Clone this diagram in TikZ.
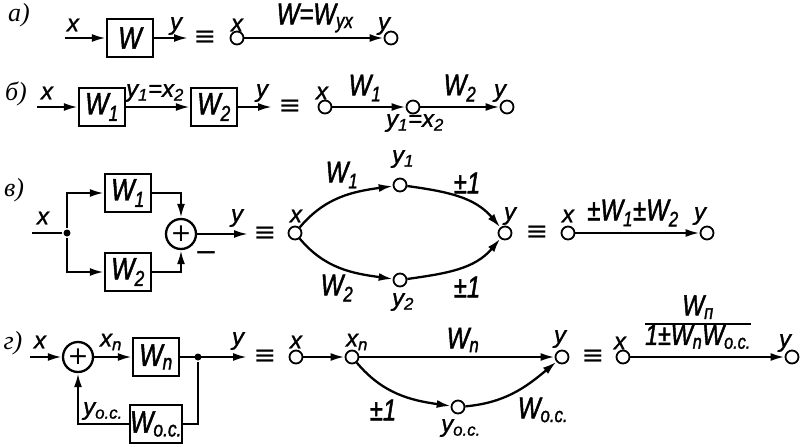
\documentclass[tikz,border=0pt]{standalone}
\usepackage{fontspec}
\setmainfont{Liberation Sans}[FakeBold=1.2]
\newfontfamily\wfont[FakeStretch=0.8,FakeBold=1.5]{Liberation Sans}
\newfontfamily\itemfont{Liberation Serif}
\newfontfamily\symfont{DejaVu Sans}
\usetikzlibrary{arrows.meta}
\setlength{\arrayrulewidth}{2pt}
\renewcommand{\arraystretch}{0.85}
\begin{document}
\begin{tikzpicture}[x=1pt,y=-1pt,line width=2.3pt,
  arr/.style={-{Latex[length=14pt,width=8pt]}},
  block/.style={draw,minimum width=46pt,minimum height=38pt,inner sep=0pt,font=\wfont\itshape\fontsize{31}{33}\selectfont},
  vtx/.style={circle,draw,fill=white,line width=1.8pt,minimum size=13pt,inner sep=0pt},
  summer/.style={circle,draw,minimum size=30pt,inner sep=0pt,font=\symfont\fontsize{25}{25}\selectfont},
  jdot/.style={circle,fill,minimum size=7pt,inner sep=0pt},
  sig/.style={inner sep=0pt,font=\itshape\fontsize{24}{26}\selectfont},
  tf/.style={inner sep=0pt,font=\wfont\itshape\fontsize{30}{32}\selectfont},
  eqv/.style={inner sep=0pt,font=\symfont\fontsize{27}{29}\selectfont},
  part/.style={inner sep=0pt,font=\itemfont\itshape\fontsize{26}{28}\selectfont}]
\useasboundingbox (0,0) rectangle (803,447);
\node[part] (pa) at (19,15) {а)};
\coordinate (a0) at (65,38);
\node[block] (aW) at (130,38) {W};
\coordinate (a1) at (188,38);
\draw[arr] (a0) -- (aW);
\draw[arr] (aW) -- (a1);
\node[sig] (ax0) at (73,25) {x};
\node[sig] (ay0) at (176,26) {y};
\node[eqv] (aeq) at (205,38) {≡};
\node[vtx] (ax) at (237,38) {};
\node[vtx] (ay) at (391,38) {};
\draw[arr] (ax) -- (ay);
\node[sig] (axl) at (237,25) {x};
\node[sig] (ayl) at (384,26) {y};
\node[tf] (aWl) at (315,18) {W=W\textsubscript{yx}};
\node[part] (pb) at (16,94) {б)};
\coordinate (b0) at (37,107);
\node[block] (bW1) at (102,107) {W\textsubscript{1}};
\node[block] (bW2) at (214,107) {W\textsubscript{2}};
\coordinate (b1) at (272,107);
\draw[arr] (b0) -- (bW1);
\draw[arr] (bW1) -- (bW2);
\draw[arr] (bW2) -- (b1);
\node[sig] (bx0) at (47,93) {x};
\node[sig] (bm0) at (155,93) {y\textsubscript{1}=x\textsubscript{2}};
\node[sig] (by0) at (262,93) {y};
\node[eqv] (beq) at (290,107) {≡};
\node[vtx] (bx) at (325,107) {};
\node[vtx] (bm) at (413,107) {};
\node[vtx] (by) at (507,107) {};
\draw[arr] (bx) -- (bm);
\draw[arr] (bm) -- (by);
\node[sig] (bxl) at (322,93) {x};
\node[tf] (bW1l) at (365,88) {W\textsubscript{1}};
\node[tf] (bW2l) at (460,88) {W\textsubscript{2}};
\node[sig] (byl) at (500,93) {y};
\node[sig] (bml) at (415,123) {y\textsubscript{1}=x\textsubscript{2}};
\node[part] (pc) at (14,190) {в)};
\coordinate (c0) at (32,233);
\node[jdot] (cd) at (67,233) {};
\node[block] (cW1) at (128,193) {W\textsubscript{1}};
\node[block] (cW2) at (128,272) {W\textsubscript{2}};
\node[summer] (cS) at (181,234) {+};
\coordinate (c1) at (248,234);
\draw (c0) -- (cd);
\draw[arr] (cd) |- (cW1);
\draw[arr] (cd) |- (cW2);
\draw[arr] (cW1) -| (cS);
\draw[arr] (cW2) -| (cS);
\draw[arr] (cS) -- (c1);
\node[sig] (cx0) at (43,218) {x};
\node[sig] (cy0) at (237,218) {y};
\node[eqv,font=\symfont\fontsize{28}{28}\selectfont] (cmin) at (206,257) {−};
\node[eqv] (ceq) at (265,234) {≡};
\node[vtx] (cx) at (295,233) {};
\node[vtx] (cy1) at (400,185) {};
\node[vtx] (cy2) at (400,280) {};
\node[vtx] (cy) at (505,233) {};
\draw[arr] (cx) to[out=50,in=188] (cy1);
\draw[arr] (cy1) to[out=-8,in=130] (cy);
\draw[arr] (cx) to[out=-50,in=172] (cy2);
\draw[arr] (cy2) to[out=8,in=-130] (cy);
\node[sig] (cxl) at (296,216) {x};
\node[tf] (cW1l) at (342,175) {W\textsubscript{1}};
\node[sig] (cy1l) at (403,159) {y\textsubscript{1}};
\node[tf] (cp1) at (467,183) {±1};
\node[sig] (cyl) at (510,216) {y};
\node[tf] (cW2l) at (337,288) {W\textsubscript{2}};
\node[sig] (cy2l) at (403,302) {y\textsubscript{2}};
\node[tf] (cp2) at (467,287) {±1};
\node[eqv] (ceq2) at (537,233) {≡};
\node[vtx] (cX) at (568,233) {};
\node[vtx] (cY) at (707,233) {};
\draw[arr] (cX) -- (cY);
\node[sig] (cXl) at (568,216) {x};
\node[sig] (cYl) at (700,216) {y};
\node[tf] (cWl) at (633,213) {±W\textsubscript{1}±W\textsubscript{2}};
\node[part] (pd) at (13,343) {г)};
\coordinate (d0) at (30,357);
\node[summer] (dS) at (78,357) {+};
\node[block] (dWn) at (156,357) {W\textsubscript{n}};
\node[jdot] (dd) at (198,357) {};
\coordinate (d1) at (247,357);
\node[block] (dWo) at (156,424) {W\textsubscript{о.с.}};
\draw[arr] (d0) -- (dS);
\draw[arr] (dS) -- (dWn);
\draw[arr] (dWn) -- (d1);
\draw (dd) |- (dWo);
\draw[arr] (dWo) -| (dS);
\node[sig] (dx0) at (40,342) {x};
\node[sig] (dxn0) at (111,342) {x\textsubscript{n}};
\node[sig] (dy0) at (238,341) {y};
\node[sig] (dyo0) at (103,411) {y\textsubscript{о.с.}};
\node[eqv] (deq) at (265,357) {≡};
\node[vtx] (dx) at (296,357) {};
\node[vtx] (dxn) at (352,357) {};
\node[vtx] (dy) at (562,357) {};
\node[vtx] (dyo) at (458,407) {};
\draw[arr] (dx) -- (dxn);
\draw[arr] (dxn) -- (dy);
\draw[arr] (dxn) to[out=-50,in=172] (dyo);
\draw[arr] (dyo) to[out=5,in=-140] (dy);
\node[sig] (dxl) at (296,342) {x};
\node[sig] (dxnl) at (357,342) {x\textsubscript{n}};
\node[tf] (dWnl) at (463,340) {W\textsubscript{n}};
\node[sig] (dyl) at (560,339) {y};
\node[tf] (dp) at (383,410) {±1};
\node[tf] (dWol) at (543,410) {W\textsubscript{о.с.}};
\node[sig] (dyol) at (461,428) {y\textsubscript{о.с.}};
\node[eqv] (deq2) at (593,357) {≡};
\node[vtx] (dX) at (623,357) {};
\node[vtx] (dY) at (792,357) {};
\draw[arr] (dX) -- (dY);
\node[sig] (dXl) at (620,343) {x};
\node[sig] (dYl) at (785,343) {y};
\node[inner sep=0pt,font=\wfont\itshape\fontsize{29}{30}\selectfont] (dfr) at (698,324)
  {\begin{tabular}{@{}c@{}}W\textsubscript{п}\\\hline 1±W\textsubscript{n}W\textsubscript{о.с.}\end{tabular}};
\end{tikzpicture}
\end{document}
